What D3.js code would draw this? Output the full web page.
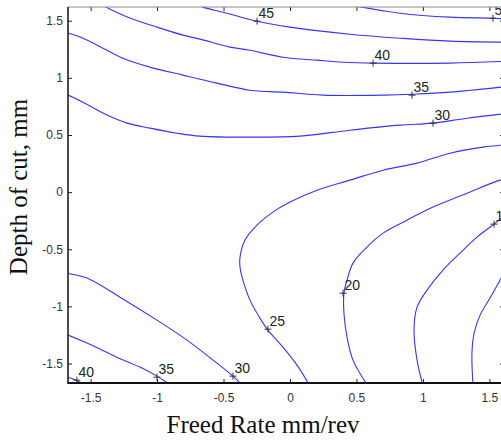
<!DOCTYPE html>
<html>
<head>
<meta charset="utf-8">
<script src="https://cdn.jsdelivr.net/npm/d3@7"></script>
<style>
  body { margin: 0; background: #fff; }
  svg { display: block; }
</style>
</head>
<body>
<svg id="chart" width="501" height="441"></svg>
<script>
// Tick values for both coded factors
const xTicks = [-1.5, -1, -0.5, 0, 0.5, 1, 1.5];
const yTicks = [-1.5, -1, -0.5, 0, 0.5, 1, 1.5];

// Contour polylines, [feed rate, depth of cut] in coded units
const contour50 = [[0.414, 1.645], [0.828, 1.566], [1.204, 1.531], [1.527, 1.522], [1.655, 1.514]];
const contour45 = [[-0.715, 1.645], [-0.655, 1.619], [-0.474, 1.566], [-0.248, 1.496], [0, 1.444],
  [0.451, 1.382], [0.828, 1.347], [1.204, 1.321], [1.655, 1.312]];
const contour40 = [[-1.430, 1.645], [-1.385, 1.619], [-1.219, 1.531], [-1.001, 1.444], [-0.805, 1.374],
  [-0.677, 1.339], [-0.451, 1.269], [-0.301, 1.242], [-0.053, 1.181], [0.203, 1.155], [0.399, 1.137],
  [0.640, 1.129], [1.204, 1.129], [1.655, 1.146]];
const contour35 = [[-1.731, 1.409], [-1.670, 1.391], [-1.558, 1.347], [-1.377, 1.242], [-1.257, 1.172],
  [-1.053, 1.094], [-0.805, 1.024], [-0.549, 0.954], [-0.301, 0.892], [-0.053, 0.875], [0.248, 0.849],
  [0.700, 0.849], [0.926, 0.857], [1.204, 0.875], [1.655, 0.927]];
const contour30 = [[-1.731, 0.875], [-1.670, 0.849], [-1.558, 0.787], [-1.377, 0.674], [-1.226, 0.604],
  [-1.053, 0.560], [-0.850, 0.516], [-0.677, 0.490], [-0.301, 0.481], [0.075, 0.490], [0.451, 0.542],
  [0.828, 0.586], [1.076, 0.604], [1.332, 0.647], [1.655, 0.691]];
const contour25 = [[1.655, 0.429], [1.580, 0.411], [1.452, 0.394], [1.204, 0.341], [0.956, 0.254],
  [0.700, 0.192], [0.451, 0.105], [0.203, 0.017], [0, -0.087], [-0.128, -0.175], [-0.248, -0.289],
  [-0.339, -0.420], [-0.376, -0.569], [-0.376, -0.656], [-0.354, -0.770], [-0.301, -0.945],
  [-0.226, -1.102], [-0.166, -1.207], [-0.053, -1.356], [0.053, -1.514], [0.150, -1.697]];
const contour20 = [[1.655, 0.122], [1.580, 0.105], [1.332, -0.009], [1.076, -0.131], [0.880, -0.245],
  [0.700, -0.359], [0.579, -0.481], [0.474, -0.621], [0.429, -0.770], [0.406, -0.884], [0.406, -1.059],
  [0.429, -1.269], [0.474, -1.470], [0.587, -1.697]];
const contour15 = [[1.655, -0.184], [1.580, -0.236], [1.535, -0.280], [1.407, -0.394], [1.279, -0.534],
  [1.151, -0.682], [1.031, -0.857], [0.956, -1.006], [0.933, -1.207], [0.956, -1.470], [1.001, -1.697]];
const contour10 = [[1.655, -0.612], [1.580, -0.770], [1.505, -0.927], [1.430, -1.076], [1.385, -1.234],
  [1.369, -1.409], [1.377, -1.697]];
const contour30Low = [[-1.731, -0.682], [-1.670, -0.709], [-1.527, -0.752], [-1.279, -0.919],
  [-1.001, -1.120], [-0.775, -1.295], [-0.579, -1.470], [-0.429, -1.610], [-0.354, -1.697]];
const contour35Low = [[-1.731, -1.225], [-1.670, -1.251], [-1.527, -1.321], [-1.302, -1.444],
  [-1.129, -1.531], [-1.001, -1.610], [-0.888, -1.697]];
const contour40Low = [[-1.731, -1.592], [-1.670, -1.619], [-1.595, -1.654], [-1.520, -1.715]];

const contourLines = [contour50, contour45, contour40, contour35, contour30, contour25,
  contour20, contour15, contour10, contour30Low, contour35Low, contour40Low];

// Contour labels: level and the point on the line where it is written
const labelLevels = ["50", "45", "40", "35", "30", "25", "20", "15", "30", "35", "40"];
const labelPoints = [[1.527, 1.522], [-0.248, 1.496], [0.625, 1.129], [0.918, 0.849], [1.076, 0.604],
  [-0.166, -1.199], [0.399, -0.884], [1.535, -0.280], [-0.429, -1.610], [-1.001, -1.619], [-1.603, -1.645]];

const svg = d3.select("#chart");
const plotLeft = 68, plotRight = 504, plotTop = 7, plotBottom = 383;

const x = d3.scaleLinear().domain([-1.67, 1.61]).range([plotLeft, plotRight]);
const y = d3.scaleLinear().domain([-1.67, 1.62]).range([plotBottom, plotTop]);

svg.append("defs").append("clipPath").attr("id", "plotClip")
  .append("rect").attr("x", plotLeft).attr("y", plotTop)
  .attr("width", plotRight - plotLeft).attr("height", plotBottom - plotTop);

const plot = svg.append("g").attr("clip-path", "url(#plotClip)");

const line = d3.line().x(d => x(d[0])).y(d => y(d[1])).curve(d3.curveCatmullRom.alpha(0.5));

plot.selectAll("path.contour").data(contourLines).join("path")
  .attr("class", "contour")
  .attr("d", line)
  .attr("fill", "none")
  .attr("stroke", "#3535ff")
  .attr("stroke-width", 1.1);

// "+" markers and level text
const labels = plot.selectAll("g.clabel").data(labelPoints).join("g")
  .attr("class", "clabel")
  .attr("transform", d => `translate(${x(d[0])},${y(d[1])})`);
labels.append("path")
  .attr("d", "M-3.5,0H3.5M0,-3.5V3.5")
  .attr("stroke", "#333")
  .attr("stroke-width", 1);
labels.append("text")
  .attr("x", 1.5)
  .attr("y", -3)
  .attr("font-family", "'Liberation Sans Narrow', 'Liberation Sans', Arial, sans-serif")
  .attr("font-size", 14)
  .attr("fill", "#222")
  .text((d, i) => labelLevels[i]);

// Axes with inward ticks on all four sides
const fmt = d => String(d);
const tickFont = "'Liberation Sans', Arial, sans-serif";

const gx = svg.append("g").attr("transform", `translate(0,${plotBottom})`)
  .call(d3.axisBottom(x).tickValues(xTicks).tickFormat(fmt).tickSizeInner(-4).tickSizeOuter(0).tickPadding(10.5));
const gy = svg.append("g").attr("transform", `translate(${plotLeft},0)`)
  .call(d3.axisLeft(y).tickValues(yTicks).tickFormat(fmt).tickSizeInner(-4).tickSizeOuter(0).tickPadding(5));
const gt = svg.append("g").attr("transform", `translate(0,${plotTop})`)
  .call(d3.axisTop(x).tickValues(xTicks).tickFormat("").tickSizeInner(-4).tickSizeOuter(0));
const gr = svg.append("g").attr("transform", `translate(${plotRight},0)`)
  .call(d3.axisRight(y).tickValues(yTicks).tickFormat("").tickSizeInner(-4).tickSizeOuter(0));

[gx, gy, gt, gr].forEach(g => {
  g.select(".domain").remove();
  g.selectAll(".tick line").attr("stroke", "#222").attr("stroke-width", 1);
  g.selectAll(".tick text").attr("font-family", tickFont).attr("font-size", 12).attr("fill", "#333");
});

// Axes box
svg.append("line").attr("x1", plotLeft).attr("x2", plotRight).attr("y1", plotTop).attr("y2", plotTop)
  .attr("stroke", "#8a8a8a").attr("stroke-width", 1);
svg.append("line").attr("x1", plotLeft).attr("x2", plotLeft).attr("y1", plotTop).attr("y2", plotBottom)
  .attr("stroke", "#111").attr("stroke-width", 1.5);
svg.append("line").attr("x1", plotLeft - 0.75).attr("x2", plotRight).attr("y1", plotBottom).attr("y2", plotBottom)
  .attr("stroke", "#111").attr("stroke-width", 2);
svg.append("line").attr("x1", plotRight).attr("x2", plotRight).attr("y1", plotTop).attr("y2", plotBottom)
  .attr("stroke", "#111").attr("stroke-width", 1.5);

// Axis titles
svg.append("text")
  .attr("x", 263).attr("y", 433)
  .attr("text-anchor", "middle")
  .attr("font-family", "'Liberation Serif', 'Times New Roman', serif")
  .attr("font-size", 25)
  .attr("fill", "#111")
  .text("Freed Rate mm/rev");
svg.append("text")
  .attr("transform", "translate(27,187) rotate(-90)")
  .attr("text-anchor", "middle")
  .attr("font-family", "'Liberation Serif', 'Times New Roman', serif")
  .attr("font-size", 25)
  .attr("fill", "#111")
  .text("Depth of cut, mm");
</script>
</body>
</html>
